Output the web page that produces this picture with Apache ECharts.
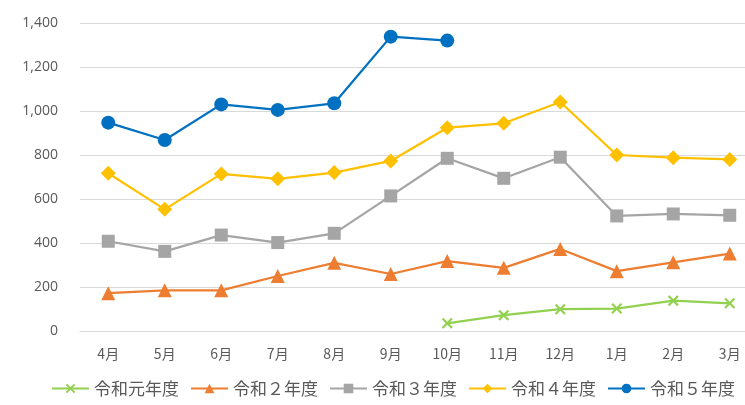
<!DOCTYPE html>
<html>
<head>
<meta charset="utf-8">
<script src="https://cdn.jsdelivr.net/npm/echarts@6/dist/echarts.min.js"></script>
<style>
  html, body { margin: 0; padding: 0; background: #fff; overflow: hidden; }
  #chart { width: 758px; height: 405px; }
</style>
</head>
<body>
<div id="chart"></div>
<script>
// 月（4月始まりの年度）
const months = ["4月", "5月", "6月", "7月", "8月", "9月", "10月", "11月", "12月", "1月", "2月", "3月"];
const seriesNames = ["令和元年度", "令和２年度", "令和３年度", "令和４年度", "令和５年度"];

const r1Data = [null, null, null, null, null, null, 35, 72, 99, 102, 138, 126];
const r2Data = [172, 185, 185, 250, 310, 259, 318, 287, 373, 272, 312, 352];
const r3Data = [408, 362, 436, 402, 444, 614, 785, 694, 790, 523, 532, 526];
const r4Data = [717, 553, 714, 692, 720, 773, 924, 944, 1041, 800, 788, 780];
const r5Data = [947, 868, 1030, 1005, 1035, 1338, 1320, null, null, null, null, null];

const yTicks = { min: 0, max: 1400, interval: 200 };

const colors = ["#92D050", "#ED7D31", "#A5A5A5", "#FFC000", "#0070C0"];
const xMark = "path://M0,1.4L1.4,0L5,3.6L8.6,0L10,1.4L6.4,5L10,8.6L8.6,10L5,6.4L1.4,10L0,8.6L3.6,5Z";
const markers = [
  { symbol: xMark, size: 11 },
  { symbol: "triangle", size: 14 },
  { symbol: "rect", size: 13 },
  { symbol: "diamond", size: 15 },
  { symbol: "circle", size: 14 }
];
const allData = [r1Data, r2Data, r3Data, r4Data, r5Data];

const chart = echarts.init(document.getElementById("chart"));
chart.setOption({
  animation: false,
  textStyle: { fontFamily: "Noto Sans CJK JP" },
  // the plot runs past the right edge of the picture, like the reference crop
  grid: { left: 80, right: 0, top: 23, bottom: 74 },
  legend: {
    bottom: 3,
    left: 46,
    itemWidth: 37,
    itemHeight: 12,
    itemGap: 11,
    textStyle: { fontSize: 17, color: "#595959", fontFamily: "Noto Sans CJK JP" },
    data: seriesNames
  },
  xAxis: {
    type: "category",
    data: months,
    axisLine: { lineStyle: { color: "#D9D9D9", width: 1 } },
    axisTick: { show: false },
    axisLabel: { color: "#595959", fontSize: 14, margin: 16 }
  },
  yAxis: {
    type: "value",
    min: yTicks.min,
    max: yTicks.max,
    interval: yTicks.interval,
    axisLine: { show: false },
    axisTick: { show: false },
    splitLine: { lineStyle: { color: "#D9D9D9", width: 1 } },
    axisLabel: {
      color: "#595959",
      fontSize: 14,
      margin: 22,
      fontFamily: "Open Sans",
      formatter: function (v) { return v.toLocaleString("en-US"); }
    }
  },
  series: seriesNames.map(function (name, i) {
    return {
      name: name,
      type: "line",
      data: allData[i],
      symbol: markers[i].symbol,
      symbolSize: markers[i].size,
      showAllSymbol: true,
      connectNulls: false,
      itemStyle: { color: colors[i] },
      lineStyle: { color: colors[i], width: 2.25 }
    };
  })
});
</script>
</body>
</html>
